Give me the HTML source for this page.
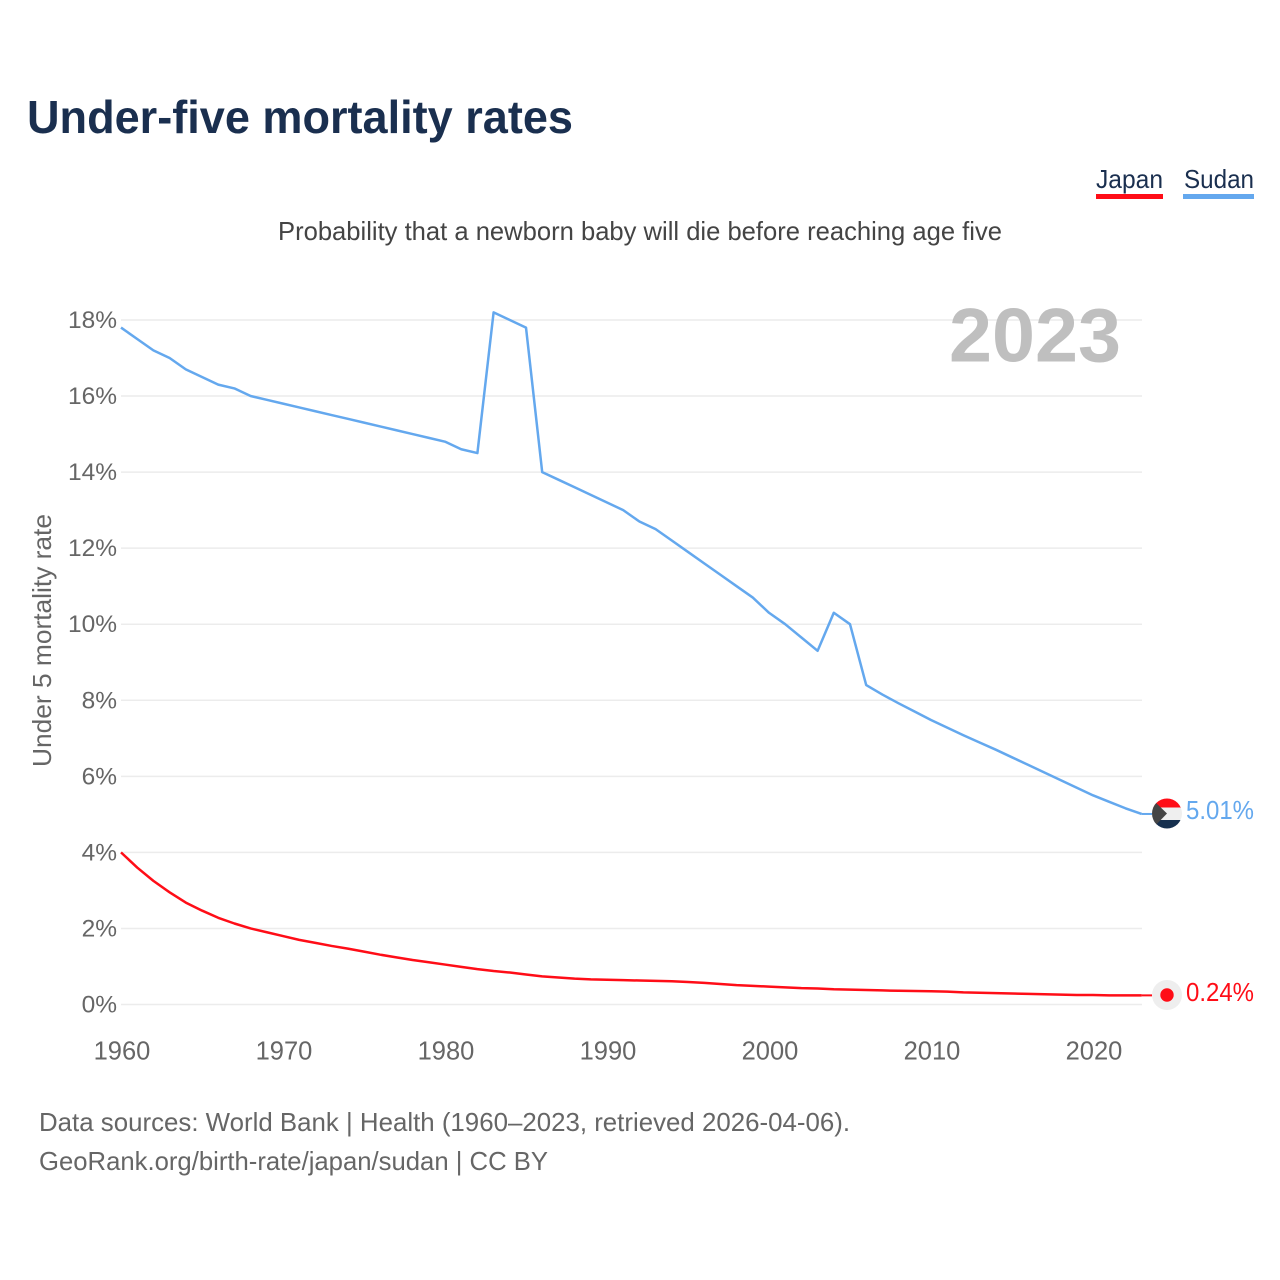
<!DOCTYPE html>
<html>
<head>
<meta charset="utf-8">
<title>Under-five mortality rates</title>
<style>
html,body{margin:0;padding:0;background:#fff;width:1280px;height:1280px;overflow:hidden}
svg{display:block}
text{font-family:"Liberation Sans",sans-serif}
</style>
</head>
<body>
<svg id="chart" width="1280" height="1280" viewBox="0 0 1280 1280" xmlns="http://www.w3.org/2000/svg">
  <defs>
    <clipPath id="flag-clip"><circle cx="1167" cy="813.5" r="15"/></clipPath>
  </defs>
  <rect width="1280" height="1280" fill="#fff"/>
  <text x="27" y="133" font-size="46" font-weight="700" fill="#1a2f4f" textLength="546" lengthAdjust="spacingAndGlyphs">Under-five mortality rates</text>
  <text x="1096" y="188" font-size="26" fill="#1a2f4f" textLength="67" lengthAdjust="spacingAndGlyphs">Japan</text>
  <rect x="1096" y="194" width="67" height="5" fill="#ff0d17"/>
  <text x="1184" y="188" font-size="26" fill="#1a2f4f" textLength="70" lengthAdjust="spacingAndGlyphs">Sudan</text>
  <rect x="1183" y="194" width="71" height="5" fill="#64a8ee"/>
  <text x="278" y="240" font-size="26" fill="#444" textLength="724" lengthAdjust="spacingAndGlyphs">Probability that a newborn baby will die before reaching age five</text>
  <g id="grid"></g>
  <g id="y-ticks"></g>
  <g id="x-ticks"></g>
  <text x="949" y="361.5" font-size="76" font-weight="700" fill="#bfbfbf" textLength="172" lengthAdjust="spacingAndGlyphs">2023</text>
  <text transform="translate(51,767) rotate(-90)" font-size="26" fill="#666" textLength="253" lengthAdjust="spacingAndGlyphs">Under 5 mortality rate</text>
  <path id="line-sudan" fill="none" stroke="#64a8ee" stroke-width="2.5" stroke-linejoin="round"></path>
  <path id="line-japan" fill="none" stroke="#ff0d17" stroke-width="2.5" stroke-linejoin="round"></path>
  <path id="lead-sudan" fill="none" stroke="#64a8ee" stroke-width="2"></path>
  <path id="lead-japan" fill="none" stroke="#ff0d17" stroke-width="2"></path>
  <g clip-path="url(#flag-clip)">
    <rect x="1150" y="797" width="34" height="11" fill="#ff0d17"/>
    <rect x="1150" y="807.5" width="34" height="12.5" fill="#efefef"/>
    <rect x="1150" y="820" width="34" height="11" fill="#16304f"/>
    <polygon points="1150,797 1167,813.5 1150,831" fill="#454545"/>
  </g>
  <g>
    <circle cx="1167" cy="995" r="15" fill="#eeeeee"/>
    <circle cx="1167" cy="995" r="6.7" fill="#ff0d17"/>
  </g>
  <text id="value-sudan" x="1186" y="819" font-size="26" fill="#64a8ee" textLength="68" lengthAdjust="spacingAndGlyphs"></text>
  <text id="value-japan" x="1186" y="1001" font-size="26" fill="#ff0d17" textLength="68" lengthAdjust="spacingAndGlyphs"></text>
  <text x="39" y="1131" font-size="26" fill="#666" textLength="811" lengthAdjust="spacingAndGlyphs">Data sources: World Bank | Health (1960–2023, retrieved 2026-04-06).</text>
  <text x="39" y="1170" font-size="26" fill="#666" textLength="509" lengthAdjust="spacingAndGlyphs">GeoRank.org/birth-rate/japan/sudan | CC BY</text>
</svg>
<script>
const startYear = 1960;
const yTickValues = [0, 2, 4, 6, 8, 10, 12, 14, 16, 18];
const xTickYears = [1960, 1970, 1980, 1990, 2000, 2010, 2020];
const sudanValues = [17.8,17.5,17.2,17.0,16.7,16.5,16.3,16.2,16.0,15.9,
  15.8,15.7,15.6,15.5,15.4,15.3,15.2,15.1,15.0,14.9,
  14.8,14.6,14.5,18.2,18.0,17.8,14.0,13.8,13.6,13.4,
  13.2,13.0,12.7,12.5,12.2,11.9,11.6,11.3,11.0,10.7,
  10.3,10.0,9.65,9.3,10.3,10.0,8.4,8.15,7.92,7.7,
  7.48,7.28,7.08,6.89,6.7,6.5,6.3,6.1,5.9,5.7,
  5.5,5.33,5.16,5.01];
const japanValues = [4.0,3.6,3.25,2.95,2.68,2.47,2.28,2.13,2.0,1.9,
  1.8,1.7,1.62,1.54,1.47,1.39,1.31,1.24,1.17,1.11,
  1.05,0.99,0.93,0.88,0.84,0.79,0.74,0.71,0.68,0.66,
  0.65,0.64,0.63,0.62,0.61,0.59,0.57,0.54,0.51,0.49,
  0.47,0.45,0.43,0.42,0.40,0.39,0.38,0.37,0.36,0.355,
  0.35,0.34,0.32,0.31,0.30,0.29,0.28,0.27,0.26,0.25,
  0.25,0.24,0.24,0.24];

const NS = 'http://www.w3.org/2000/svg';
const xScale = function (year) { return 121 + (year - 1960) * 16.2; };
const yScale = function (v) { return 1004.5 - v * 38.03; };

const grid = document.getElementById('grid');
const yTicks = document.getElementById('y-ticks');
const xTicks = document.getElementById('x-ticks');

yTickValues.forEach(function (v) {
  const line = document.createElementNS(NS, 'line');
  
  
  line.setAttribute('x1', 121);
  line.setAttribute('x2', 1142);
  line.setAttribute('y1', yScale(v));
  line.setAttribute('y2', yScale(v));
  line.setAttribute('stroke', '#ececec');
  line.setAttribute('stroke-width', '1.5');
  grid.appendChild(line);

  const label = document.createElementNS(NS, 'text');
  
  
  label.setAttribute('x', 117);
  label.setAttribute('y', yScale(v) + 8);
  label.setAttribute('text-anchor', 'end');
  label.setAttribute('font-size', '24.5');
  label.setAttribute('fill', '#666');
  label.textContent = v + '%';
  yTicks.appendChild(label);
});

xTickYears.forEach(function (y) {
  const label = document.createElementNS(NS, 'text');
  
  
  label.setAttribute('x', xScale(y) + 1);
  label.setAttribute('y', 1059.5);
  label.setAttribute('text-anchor', 'middle');
  label.setAttribute('font-size', '25.5');
  label.setAttribute('fill', '#666');
  label.textContent = String(y);
  xTicks.appendChild(label);
});

function linePath(values) {
  return values.map(function (v, i) {
    return (i ? 'L' : 'M') + xScale(startYear + i).toFixed(2) + ' ' + yScale(v).toFixed(2);
  }).join(' ');
}
function leadPath(values) {
  const last = values[values.length - 1];
  const y = yScale(last).toFixed(2);
  return 'M' + xScale(startYear + values.length - 1).toFixed(2) + ' ' + y + ' L1152 ' + y;
}
document.getElementById('line-sudan').setAttribute('d', linePath(sudanValues));
document.getElementById('line-japan').setAttribute('d', linePath(japanValues));
document.getElementById('lead-sudan').setAttribute('d', leadPath(sudanValues));
document.getElementById('lead-japan').setAttribute('d', leadPath(japanValues));
document.getElementById('value-sudan').textContent = sudanValues[sudanValues.length - 1].toFixed(2) + '%';
document.getElementById('value-japan').textContent = japanValues[japanValues.length - 1].toFixed(2) + '%';
</script>
</body>
</html>
